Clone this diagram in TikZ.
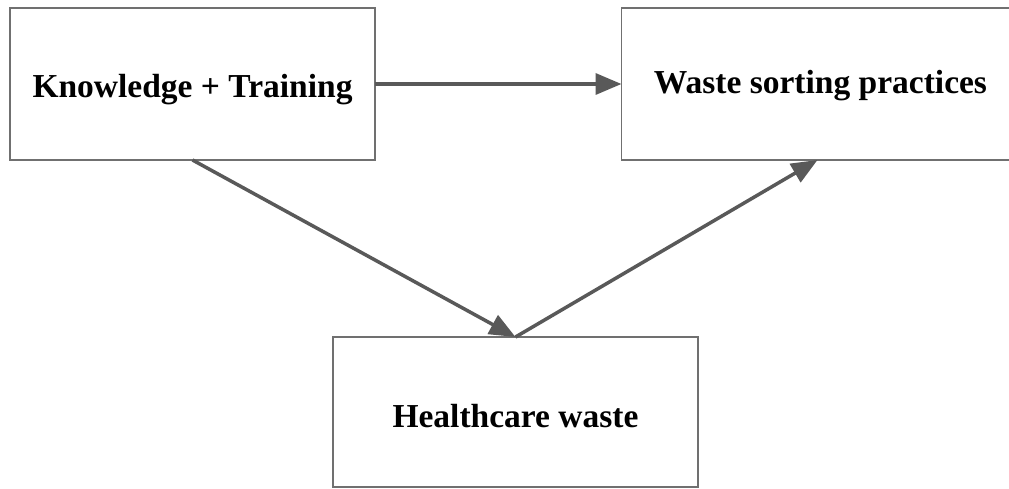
\documentclass[tikz,border=0pt]{standalone}
\usepackage{fontspec}
\setmainfont{Liberation Serif}
\usetikzlibrary{arrows.meta}
\definecolor{edgegray}{HTML}{595959}
\definecolor{boxgray}{HTML}{707070}
\begin{document}
\begin{tikzpicture}[x=1pt,y=-1pt,
  box/.style={draw=boxgray, line width=1.5pt, fill=white, outer sep=0pt, inner sep=0pt,
    text depth=8pt, font=\fontsize{33.5}{40}\selectfont\bfseries},
  conn/.style={draw=edgegray, line width=3.5pt, -{Triangle[length=26pt,width=21pt]}}]
\useasboundingbox (0,0) rectangle (1009,489);
\clip (0,0) rectangle (1009,489);
\node[box, text height=36pt, minimum width=365pt, minimum height=152pt] (A) at (192.5,84) {Knowledge + Training};
\node[box, text height=28pt, minimum width=398pt, minimum height=152pt] (B) at (820.5,84) {Waste sorting practices};
\node[box, text height=38pt, minimum width=365pt, minimum height=150pt] (C) at (515.5,412) {Healthcare waste};
\draw[conn] (A.east) -- (B.west);
\draw[conn] (A.south) -- (C.north);
\draw[conn] (C.north) -- ([xshift=-3pt]B.south);
\end{tikzpicture}
\end{document}
